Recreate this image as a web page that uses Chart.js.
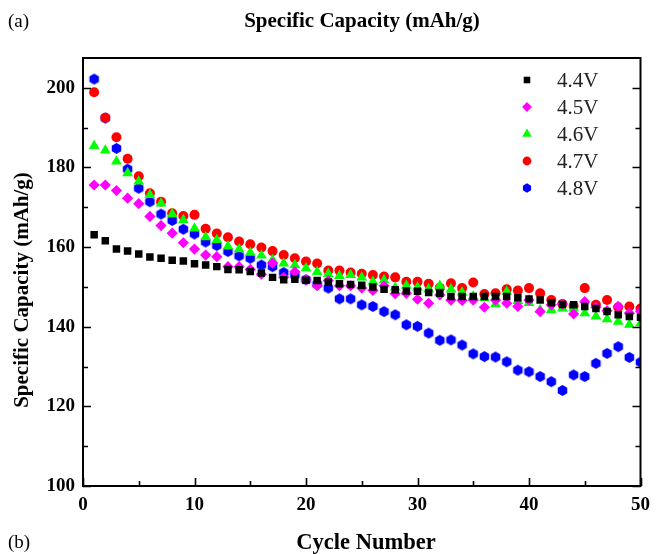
<!DOCTYPE html>
<html><head><meta charset="utf-8">
<script src="https://cdn.jsdelivr.net/npm/chart.js@4.4.1/dist/chart.umd.min.js"></script>
<style>html,body{margin:0;padding:0;background:#fff}#wrap{width:658px;height:554px}</style>
</head><body><div id="wrap"><canvas id="c" width="658" height="554"></canvas></div>
<script>
const cycles = Array.from({length:50},(_,i)=>i+1);
const seriesNames = ['4.4V','4.5V','4.6V','4.7V','4.8V'];
const v44 = [163.1,161.6,159.5,159.0,158.3,157.5,157.2,156.7,156.5,155.8,155.5,155.1,154.4,154.3,153.9,153.5,152.4,151.8,151.9,151.7,151.6,151.2,150.8,150.6,150.4,150.0,149.4,149.3,149.0,148.9,148.6,148.4,147.6,147.6,147.6,147.6,147.6,147.6,147.3,147.0,146.7,146.0,145.6,145.5,145.1,144.6,143.8,143.0,142.6,142.4];
const v45 = [175.6,175.6,174.2,172.3,170.9,167.7,165.4,163.5,161.1,159.5,158.0,157.6,155.1,155.1,154.4,153.2,156.0,152.4,153.8,151.8,150.3,151.6,150.3,150.3,149.7,149.1,150.3,148.3,148.4,146.9,145.9,148.0,146.7,146.6,146.7,144.9,146.7,145.9,145.1,146.7,143.8,145.5,145.7,143.2,146.3,144.9,144.0,145.1,143.4,143.9];
const v46 = [185.4,184.3,181.5,178.6,176.5,173.1,171.0,168.3,166.8,164.7,162.5,161.8,160.2,159.5,158.6,157.9,156.8,155.9,155.5,154.7,153.8,153.3,152.8,153.0,152.4,151.3,151.7,149.9,150.3,149.9,149.4,150.3,149.4,148.6,147.6,147.2,145.7,148.8,146.5,146.0,144.2,144.2,144.6,144.6,143.4,142.6,141.9,141.3,140.5,140.9];
const v47 = [198.9,192.5,187.6,182.2,177.8,173.5,171.4,168.5,167.8,168.1,164.6,163.4,162.5,161.4,160.7,159.9,159.0,158.0,157.2,156.4,155.9,154.1,154.1,153.6,153.3,153.0,152.6,152.4,151.3,151.3,150.8,149.8,150.9,149.7,151.1,148.2,148.4,149.4,149.1,149.7,148.4,146.7,145.7,145.2,149.7,145.5,146.7,144.9,145.1,144.6];
const v48 = [202.2,192.4,184.8,179.6,174.8,171.4,168.3,166.7,164.5,163.3,161.3,160.4,158.9,157.8,157.2,155.5,155.1,153.6,153.0,151.8,150.7,149.7,147.0,147.0,145.5,145.1,143.8,143.0,140.5,140.1,138.4,136.6,136.7,135.4,133.2,132.5,132.4,131.2,129.1,128.7,127.5,126.2,124.0,127.9,127.5,130.8,133.3,135.0,132.3,131.1];
const xTicks = [0,10,20,30,40,50];
const yTicks = [100,120,140,160,180,200];

function hexagon(r, color){
  const c = document.createElement('canvas');
  const s = Math.ceil(2*r)+2; c.width = s; c.height = s;
  const g = c.getContext('2d'); g.fillStyle = color; g.beginPath();
  for(let k=0;k<6;k++){const a=Math.PI/6+k*Math.PI/3; const px=s/2+r*Math.cos(a), py=s/2+r*Math.sin(a); k?g.lineTo(px,py):g.moveTo(px,py);}
  g.closePath(); g.fill(); return c;
}
const hex = hexagon(5.5,'#0000ff');
const hexSmall = hexagon(4.7,'#0000ff');

const styles = [
  {color:'#000000', pointStyle:'rect', radius:5.3},
  {color:'#ff00ff', pointStyle:'rectRot', radius:5.6},
  {color:'#00ff00', pointStyle:'triangle', radius:6.2},
  {color:'#ff0000', pointStyle:'circle', radius:5},
  {color:'#0000ff', pointStyle:hex, radius:5.5}
];
const values = [v44,v45,v46,v47,v48];
const datasets = values.map((vals,i)=>({
  label: seriesNames[i],
  data: cycles.map((c,j)=>({x:c,y:vals[j]})),
  showLine:false,
  pointStyle: styles[i].pointStyle,
  pointRadius: styles[i].radius,
  pointHoverRadius: styles[i].radius,
  pointBackgroundColor: styles[i].color,
  pointBorderColor: styles[i].color,
  pointBorderWidth: 0,
  backgroundColor: styles[i].color,
  borderColor: styles[i].color
}));

const SERIF = '"Liberation Serif","Times New Roman",serif';

const decor = {
  id:'decor',
  afterDatasetsDraw(chart){
    const ctx = chart.ctx, a = chart.chartArea, xs = chart.scales.x, ys = chart.scales.y;
    ctx.save();
    ctx.strokeStyle = '#000'; ctx.lineWidth = 1.6;
    ctx.beginPath();
    for(let v=0; v<=50; v+=5){
      const px = Math.round(xs.getPixelForValue(v))+0.5; const L = (v%10===0)?8:5;
      ctx.moveTo(px,a.bottom); ctx.lineTo(px,a.bottom-L);
    }
    for(let v=100; v<=200; v+=10){
      const py = Math.round(ys.getPixelForValue(v))+0.5; const L = (v%20===0)?8:5;
      ctx.moveTo(a.left,py); ctx.lineTo(a.left+L,py);
      ctx.moveTo(a.right,py); ctx.lineTo(a.right-L,py);
    }
    ctx.stroke();
    ctx.lineWidth = 2;
    ctx.strokeRect(a.left, a.top, a.right-a.left, a.bottom-a.top);
    // legend
    const lx = 527, ly0 = 80, dy = 27;
    chart.data.datasets.forEach((ds,i)=>{
      const y = ly0 + i*dy;
      ctx.fillStyle = ds.pointBackgroundColor;
      ctx.strokeStyle = ds.pointBackgroundColor;
      ctx.beginPath();
      const ps = (ds.pointStyle === hex) ? hexSmall : ds.pointStyle;
      Chart.helpers.drawPoint(ctx, {pointStyle: ps, radius: ds.pointRadius*0.88, rotation:0, borderWidth:0}, lx, y);
      ctx.fillStyle = '#222'; ctx.font = '21px '+SERIF; ctx.textBaseline='middle'; ctx.textAlign='left';
      ctx.fillText(ds.label, 557, y+1);
    });
    ctx.fillStyle = '#000';
    ctx.textBaseline = 'middle';
    ctx.font = '19px '+SERIF; ctx.textAlign='left';
    ctx.fillText('(a)', 8, 22);
    ctx.fillText('(b)', 8, 543);
    ctx.font = 'bold 21px '+SERIF; ctx.textAlign='center';
    ctx.fillText('Specific Capacity (mAh/g)', 362, 22);
    ctx.font = 'bold 22.5px '+SERIF;
    ctx.fillText('Cycle Number', 366, 543);
    ctx.translate(23, 290); ctx.rotate(-Math.PI/2);
    ctx.font = 'bold 21px '+SERIF;
    ctx.fillText('Specific Capacity (mAh/g)', 0, 0);
    ctx.restore();
  }
};

new Chart(document.getElementById('c'), {
  type:'scatter',
  data:{datasets},
  options:{
    responsive:false, animation:false, devicePixelRatio:1,
    layout:{padding:{left:0,right:11,top:58,bottom:0}},
    plugins:{legend:{display:false}, tooltip:{enabled:false}, title:{display:false}},
    scales:{
      x:{type:'linear', min:0, max:50,
        afterBuildTicks(s){ s.ticks = xTicks.map(v=>({value:v})); },
        afterFit(s){ s.height = 68; },
        grid:{display:false, drawTicks:false}, border:{display:false},
        ticks:{padding:8, color:'#000', font:{family:SERIF, size:19, weight:'bold'}}},
      y:{type:'linear', min:100, max:207.5,
        afterBuildTicks(s){ s.ticks = yTicks.map(v=>({value:v})); },
        afterFit(s){ s.width = 83; },
        grid:{display:false, drawTicks:false}, border:{display:false},
        ticks:{padding:8, color:'#000', font:{family:SERIF, size:19, weight:'bold'}}}
    }
  },
  plugins:[decor]
});
</script></body></html>
